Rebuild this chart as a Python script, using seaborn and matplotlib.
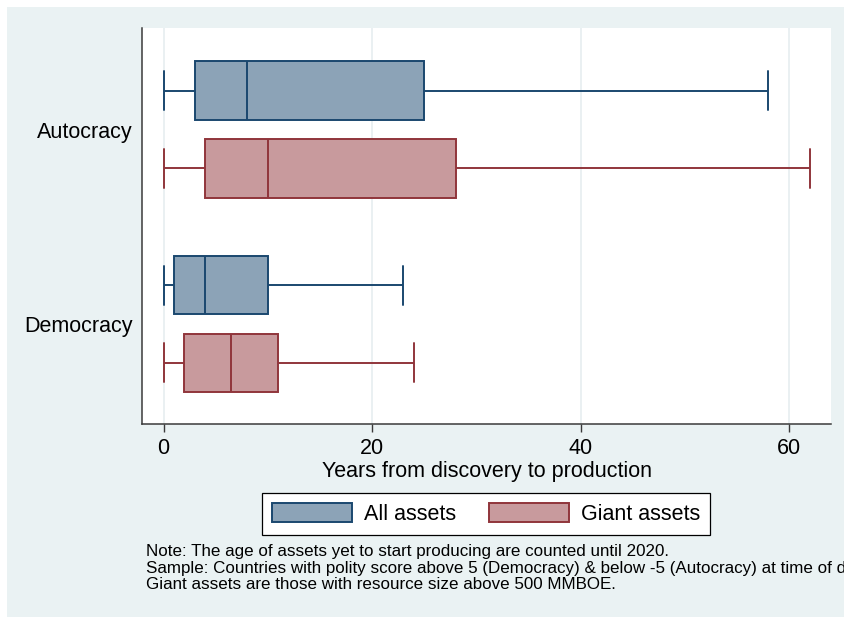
import numpy as np
import pandas as pd
import matplotlib
matplotlib.use("Agg")
import matplotlib.pyplot as plt
import matplotlib.patches as mpatches
import seaborn as sb

regimes = ["Autocracy", "Democracy"]
asset_types = ["All assets", "Giant assets"]
# five-number summaries: min, q1, median, q3, max
autocracy_all = [0, 3, 8, 25, 58]
autocracy_giant = [0, 4, 10, 28, 62]
democracy_all = [0, 1, 4, 10, 23]
democracy_giant = [0, 2, 6.5, 11, 24]
x_ticks = [0, 20, 40, 60]

notes = [
    "Note: The age of assets yet to start producing are counted until 2020.",
    "Sample: Countries with polity score above 5 (Democracy) & below -5 (Autocracy) at time of discovery.",
    "Giant assets are those with resource size above 500 MMBOE.",
]

fill_colors = ["#8CA3B7", "#C89A9D"]
edge_colors = ["#1A476F", "#90353B"]
bg = "#EAF2F3"
axis_col = "#3a3a3a"
fs = 15.5

rows = []
for regime, v_all, v_giant in [("Autocracy", autocracy_all, autocracy_giant),
                               ("Democracy", democracy_all, democracy_giant)]:
    for v in v_all:
        rows.append((regime, "All assets", v))
    for v in v_giant:
        rows.append((regime, "Giant assets", v))
df = pd.DataFrame(rows, columns=["regime", "type", "years"])

sb.set_style("white")
plt.rcParams["font.family"] = ["Liberation Sans", "DejaVu Sans"]
plt.rcParams["text.color"] = "black"
plt.rcParams["axes.labelcolor"] = "black"
plt.rcParams["xtick.labelcolor"] = "black"
plt.rcParams["ytick.labelcolor"] = "black"

W, H = 844, 618
fig = plt.figure(figsize=(W / 100, H / 100), dpi=100, facecolor="white")
# light graph region behind everything
fig.add_artist(mpatches.Rectangle((7 / W, 1 - 617 / H), 1, (617 - 7) / H,
                                  transform=fig.transFigure, facecolor=bg,
                                  edgecolor="none", zorder=-5))

ax = fig.add_axes([142 / W, 1 - 424 / H, (831 - 142) / W, (424 - 28) / H])
sb.boxplot(data=df, x="years", y="regime", hue="type", order=regimes,
           hue_order=asset_types, palette=fill_colors, saturation=1,
           width=0.8, gap=0.25, whis=np.inf, linewidth=1.4, capwidths=0.2,
           legend=False, ax=ax)

for cont, ec in zip(ax.containers, edge_colors):
    for b in cont.boxes:
        b.set_edgecolor(ec)
    for ln in list(cont.whiskers) + list(cont.caps) + list(cont.medians):
        ln.set_color(ec)

ax.set_xlim(-2.07, 64)
ax.set_ylim(1.514, -0.522)
ax.set_xticks(x_ticks)
ax.set_xticklabels([str(t) for t in x_ticks])
ax.xaxis.grid(True, color="#E6EEF0", linewidth=1.2)
ax.yaxis.grid(False)
ax.set_axisbelow(True)

for s in ["top", "right"]:
    ax.spines[s].set_visible(False)
for s in ["left", "bottom"]:
    ax.spines[s].set_color(axis_col)
    ax.spines[s].set_linewidth(1.1)

ax.tick_params(axis="x", length=6, width=1, color=axis_col, pad=4,
               labelsize=fs, bottom=True, labelcolor="black")
ax.tick_params(axis="y", length=0, pad=6.5, labelsize=fs, labelcolor="black")
ax.set_xlabel("Years from discovery to production", fontsize=fs, labelpad=1.5,
              color="black")
ax.set_ylabel("")

handles = [mpatches.Patch(facecolor=fc, edgecolor=ec, linewidth=1.4)
           for fc, ec in zip(fill_colors, edge_colors)]
leg = fig.legend(handles, asset_types, loc="center",
                 bbox_to_anchor=(486 / W, 1 - 514 / H), ncol=2, frameon=True,
                 fancybox=False, edgecolor="black", framealpha=1,
                 handlelength=3.7, handleheight=1.0, handletextpad=0.55,
                 columnspacing=1.55, borderpad=0.45, fontsize=fs,
                 labelcolor="black")
leg.get_frame().set_linewidth(0.9)

for line, yc in zip(notes, [551.5, 568, 584.5]):
    fig.text(146 / W, 1 - yc / H, line, fontsize=12.25, va="center", ha="left",
             color="black")

fig.savefig("out.png", dpi=100, facecolor="white")
